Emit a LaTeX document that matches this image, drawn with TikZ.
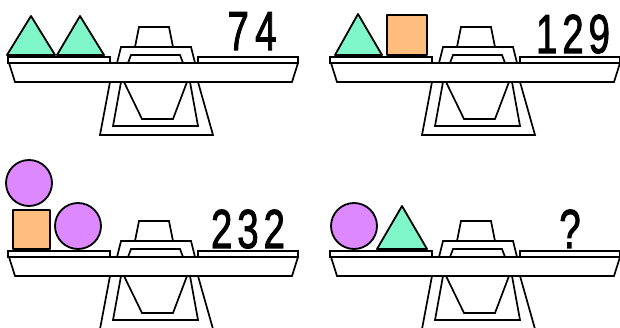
\documentclass[tikz,border=0pt]{standalone}
\usepackage{fontspec}
\setmainfont{Liberation Sans}
\newfontfamily\numfont[FakeBold=2]{Liberation Sans}
\definecolor{mint}{RGB}{128,247,200}
\definecolor{myviolet}{RGB}{221,136,255}
\definecolor{peach}{RGB}{255,190,125}
\tikzset{
  balance/.pic={
    \begin{scope}[line width=1.7pt, line join=miter]
      \draw[fill=white] (110,82) -- (100,135) -- (213,135) -- (198,82);
      \draw (121,82) -- (113,126) -- (198,126) -- (190,82);
      \draw (124,82) -- (142,119) -- (173,119) -- (187,82);
      \draw[fill=white] (9,63) -- (298,63) -- (292,82) -- (15,82) -- cycle;
      \draw (117,63) -- (121,47) -- (191,47) -- (195,63);
      \draw (128,63) -- (131,55) -- (180,55) -- (183,63);
      \draw (135,47) -- (139,27) -- (169,27) -- (173,47);
      \draw[fill=white] (8,57) rectangle (110,63);
      \draw[fill=white] (198,57) rectangle (298,63);
    \end{scope}
  },
  shapeline/.style={draw=black, line width=1.8pt, line join=round},
  tri/.style={shapeline, fill=mint},
  sq/.style={shapeline, fill=peach},
  circ/.style={shapeline, fill=myviolet},
  num/.style={inner sep=0pt, anchor=base, font=\numfont\fontsize{55}{55}\selectfont}
}
\newcommand{\narrowtext}[1]{\scalebox{0.7}[1]{#1}}
\begin{document}
\begin{tikzpicture}[x=1pt,y=-1pt]
\useasboundingbox (0,0) rectangle (620,328);
\pic at (0,0) {balance};
\pic at (322,0) {balance};
\pic at (0,194) {balance};
\pic at (322,194) {balance};
% top-left
\draw[tri] (7,55) -- (31,16) -- (55,55) -- cycle;
\draw[tri] (57,55) -- (80,16) -- (104,55) -- cycle;
\node[num] (n74) at (252,50) {\narrowtext{7\kern9pt 4}};
% top-right
\draw[tri] (335,55) -- (358,14) -- (382,55) -- cycle;
\draw[sq] (387,15) rectangle (427,55);
\node[num] (n129) at (573,53) {\narrowtext{1\kern7pt 2\kern7pt 9}};
% bottom-left
\draw[circ] (29,183) circle[radius=23];
\draw[sq] (13,210) rectangle (50,249);
\draw[circ] (78,226) circle[radius=23];
\node[num] (n232) at (248,248) {\narrowtext{2\kern7pt 3\kern7pt 2}};
% bottom-right
\draw[circ] (354,226) circle[radius=23];
\draw[tri] (377,249) -- (402,206) -- (427,249) -- cycle;
\node[num] (nq) at (570,248) {\narrowtext{?}};
\end{tikzpicture}
\end{document}
